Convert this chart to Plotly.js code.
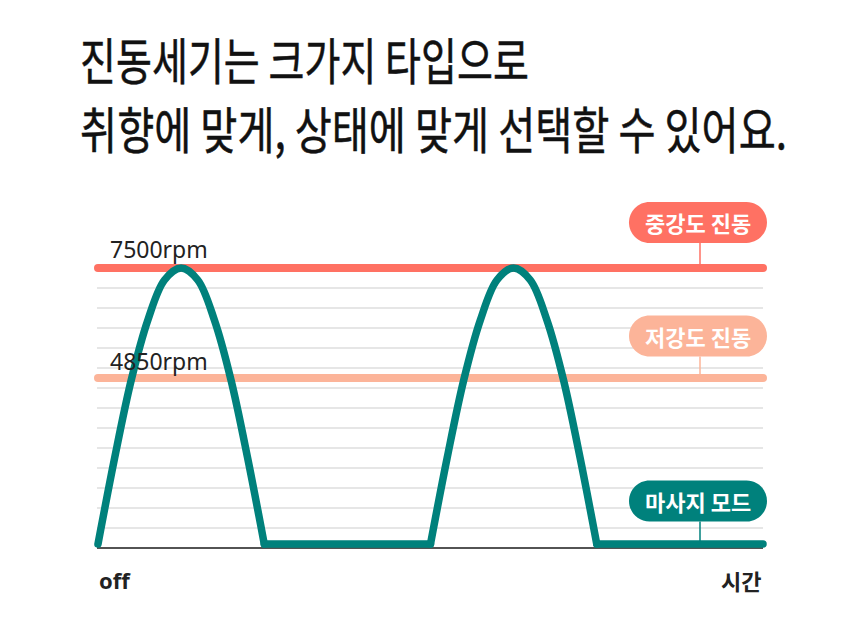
<!DOCTYPE html>
<html>
<head>
<meta charset="utf-8">
<script src="https://cdn.plot.ly/plotly-3.0.1.min.js"></script>
<style>html,body{margin:0;padding:0;background:#fff;}#chart{width:860px;height:627px;}</style>
</head>
<body>
<div id="chart"></div>
<script>
// ---- data ----
const titleLines = ['진동세기는 크가지 타입으로', '취향에 맞게, 상태에 맞게 선택할 수 있어요.'];
const rpmLabels = ['7500rpm', '4850rpm'];
const rpmLevels = [14, 8.5];              // level (grid units) of each rpm line
const modeNames = ['중강도 진동', '저강도 진동', '마사지 모드'];
const modeLevels = [14, 8.5, 0.2];
const xLabels = ['off', '시간'];
const timeEnd = 4;
const arch1X = [0, 0.1, 0.2, 0.3, 0.4, 0.5, 0.6, 0.7, 0.8, 0.9, 1.0];
const arch2X = [2.0, 2.1, 2.2, 2.3, 2.4, 2.5, 2.6, 2.7, 2.8, 2.9, 3.0];
const archY  = [0.2, 4.5, 8.4, 11.4, 13.4, 14.0, 13.4, 11.4, 8.4, 4.5, 0.2];
const flat1X = [1, 2];
const flat2X = [3, 4];
const flatY  = [0.2, 0.2];

// ---- styles / layout ----
const RED = '#FF7163', SALMON = '#FCB499', TEAL = '#00817C';
const modeColors = [RED, SALMON, TEAL];
const lineColors = [RED, SALMON];
const W = 860, H = 627;
const X0 = 98, XU = 166.25, Y0 = 548, YU = 20;
const xr = [-X0 / XU, (W - X0) / XU];
const yr = [-(H - Y0) / YU, Y0 / YU];

const traces = [];
rpmLevels.forEach((lv, i) => {
  traces.push({x: [0, timeEnd], y: [lv, lv], mode: 'lines', hoverinfo: 'skip',
    line: {color: lineColors[i], width: 8}});
});
[[arch1X, archY, 'spline'], [flat1X, flatY, 'linear'], [arch2X, archY, 'spline'], [flat2X, flatY, 'linear']]
  .forEach(([xs, ys, sh]) => traces.push({x: xs, y: ys, mode: 'lines', hoverinfo: 'skip',
    line: {color: TEAL, width: 7.5, shape: sh, smoothing: 1}}));

const shapes = [];
for (let g = 1; g <= 13; g++) {
  shapes.push({type: 'line', xref: 'x', yref: 'y', x0: -1 / XU, x1: timeEnd, y0: g, y1: g,
    line: {color: '#DEDEDE', width: 1.5}, layer: 'below'});
}
shapes.push({type: 'line', xref: 'x', yref: 'y', x0: -1 / XU, x1: timeEnd, y0: 0, y1: 0,
  line: {color: '#1a1a1a', width: 1.5}, layer: 'below'});

const annotations = [];
// pills
const pillCx = (698 - X0) / XU, connX = (700 - X0) / XU;
const pillW = 138, pillH = 41;
const pillOffsets = [2.28, 2.1, 2.15];
const k = 0.5523;
modeNames.forEach((name, i) => {
  const cy = modeLevels[i] + pillOffsets[i];
  const rx = (pillH / 2) / XU, ry = (pillH / 2) / YU;
  const xl = pillCx - (pillW / 2) / XU, xR = pillCx + (pillW / 2) / XU;
  const yt = cy + ry, yb = cy - ry;
  const p = (a, b) => a.toFixed(5) + ',' + b.toFixed(5);
  const path = 'M' + p(xl + rx, yt) + ' L' + p(xR - rx, yt) +
    ' C' + p(xR - rx + k * rx, yt) + ' ' + p(xR, cy + k * ry) + ' ' + p(xR, cy) +
    ' C' + p(xR, cy - k * ry) + ' ' + p(xR - rx + k * rx, yb) + ' ' + p(xR - rx, yb) +
    ' L' + p(xl + rx, yb) +
    ' C' + p(xl + rx - k * rx, yb) + ' ' + p(xl, cy - k * ry) + ' ' + p(xl, cy) +
    ' C' + p(xl, cy + k * ry) + ' ' + p(xl + rx - k * rx, yt) + ' ' + p(xl + rx, yt) + ' Z';
  shapes.push({type: 'path', xref: 'x', yref: 'y', path: path, fillcolor: modeColors[i],
    line: {width: 0}, layer: 'above'});
  shapes.push({type: 'line', xref: 'x', yref: 'y', x0: connX, x1: connX, y0: yb, y1: modeLevels[i],
    line: {color: modeColors[i], width: 1.5}, layer: 'above'});
  annotations.push({xref: 'x', yref: 'y', x: pillCx, y: cy, text: name, showarrow: false,
    xanchor: 'center', yanchor: 'middle',
    font: {family: 'Noto Sans CJK KR', size: 22, color: '#fff', weight: 700}});
});
// rpm labels
const rpmLabelOffsets = [0.97, 0.85];
rpmLabels.forEach((t, i) => {
  annotations.push({xref: 'x', yref: 'y', x: 10 / XU, y: rpmLevels[i] + rpmLabelOffsets[i], text: t,
    showarrow: false, xanchor: 'left', yanchor: 'middle',
    font: {family: 'Noto Sans', size: 23, color: '#222'}});
});
// x labels
annotations.push({xref: 'x', yref: 'y', x: -1 / XU, y: -1.6, text: xLabels[0], showarrow: false,
  xanchor: 'left', yanchor: 'middle', font: {family: 'Noto Sans', size: 22, color: '#222', weight: 700}});
annotations.push({xref: 'x', yref: 'y', x: timeEnd, y: -1.6, text: xLabels[1], showarrow: false,
  xanchor: 'right', yanchor: 'middle', font: {family: 'Noto Sans CJK KR', size: 22, color: '#222', weight: 700}});
// title
const titleY = [58, 127];
titleLines.forEach((t, i) => {
  annotations.push({xref: 'paper', yref: 'paper', x: 78 / W, y: 1 - titleY[i] / H, text: t,
    showarrow: false, xanchor: 'left', yanchor: 'middle',
    font: {family: 'Noto Sans CJK KR', size: 48, color: '#111', weight: 400}});
});
const titleWidths = [449, 707];

const layout = {
  width: W, height: H, margin: {l: 0, r: 0, t: 0, b: 0},
  paper_bgcolor: '#fff', plot_bgcolor: '#fff', showlegend: false,
  xaxis: {range: xr, visible: false, fixedrange: true},
  yaxis: {range: yr, visible: false, fixedrange: true},
  shapes: shapes, annotations: annotations
};

Plotly.newPlot('chart', traces, layout, {displayModeBar: false, staticPlot: true}).then(() => {
  document.querySelectorAll('.scatterlayer .js-line').forEach(p => {
    p.style.strokeLinecap = 'round';
    p.style.strokeLinejoin = 'round';
  });
  document.querySelectorAll('text.annotation-text').forEach(el => {
    const idx = titleLines.indexOf(el.textContent);
    if (idx < 0) return;
    const bb = el.getBBox();
    const sx = titleWidths[idx] / bb.width, sy = 1.05;
    const cy = bb.y + bb.height / 2;
    el.setAttribute('transform', 'translate(' + (bb.x * (1 - sx)) + ',' + (cy * (1 - sy)) + ') scale(' + sx + ',' + sy + ')');
    el.style.stroke = '#111';
    el.style.strokeWidth = '0.5px';
  });
});
</script>
</body>
</html>
